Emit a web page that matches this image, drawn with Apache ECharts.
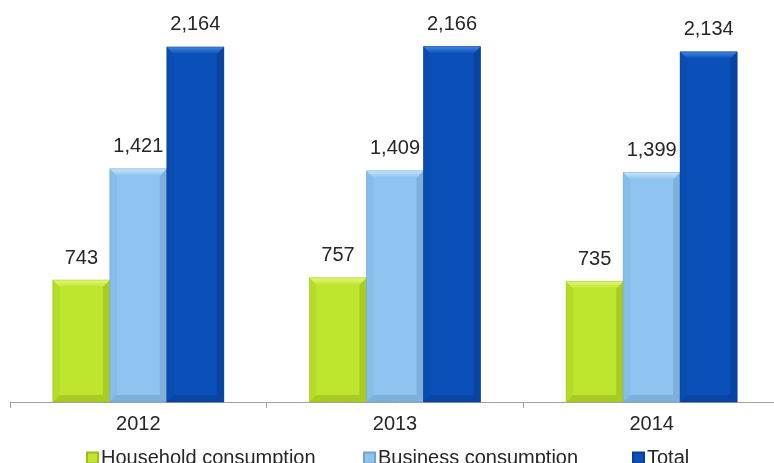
<!DOCTYPE html>
<html>
<head>
<meta charset="utf-8">
<script src="https://cdn.jsdelivr.net/npm/echarts@6/dist/echarts.min.js"></script>
<style>
html,body{margin:0;padding:0;background:#fff;}
#chart{width:774px;height:463px;}
</style>
</head>
<body>
<div id="chart"></div>
<script>
var categories = ['2012', '2013', '2014'];
var seriesNames = ['Household consumption', 'Business consumption', 'Total'];
var household = [743, 757, 735];
var business = [1421, 1409, 1399];
var total = [2164, 2166, 2134];

var dataSets = [household, business, total];
var styles = [
  {face: '#bfe62e', top: '#e6f878', left: '#b4dc28', right: '#a8cc22', bottom: '#a8cc22', line: '#9cbd1e'},
  {face: '#8ec4ef', top: '#c8e5fa', left: '#88bdea', right: '#7eb0dc', bottom: '#7eb0dc', line: '#74a3cf'},
  {face: '#0a50b8', top: '#4686e0', left: '#0a4cb0', right: '#0844a2', bottom: '#0844a2', line: '#063e94'}
];
var BAR_W = 57, BEV = 7;
var fontFam = '"Liberation Sans", Arial, sans-serif';

function fmt(v) { return v.toLocaleString('en-US'); }

function makeRender(si) {
  var st = styles[si];
  return function (params, api) {
    var idx = api.value(0), val = api.value(1);
    var topPt = api.coord([idx, val]);
    var basePt = api.coord([idx, 0]);
    var cx = topPt[0] + (si - 1) * BAR_W;
    var x0 = cx - BAR_W / 2, x1 = cx + BAR_W / 2;
    var y0 = topPt[1], y1 = basePt[1];
    var b = BEV;
    return {
      type: 'group',
      children: [
        {type: 'rect', shape: {x: x0, y: y0, width: BAR_W, height: y1 - y0},
          style: {fill: st.face}},
        {type: 'polygon', shape: {points: [[x0, y0], [x0 + b, y0 + b], [x0 + b, y1 - b], [x0, y1]]},
          style: {fill: st.left}},
        {type: 'polygon', shape: {points: [[x1, y0], [x1 - b, y0 + b], [x1 - b, y1 - b], [x1, y1]]},
          style: {fill: st.right}},
        {type: 'polygon', shape: {points: [[x0, y1], [x0 + b, y1 - b], [x1 - b, y1 - b], [x1, y1]]},
          style: {fill: st.bottom}},
        {type: 'polygon', shape: {points: [[x0, y0], [x1, y0], [x1 - b, y0 + b], [x0 + b, y0 + b]]},
          style: {fill: new echarts.graphic.LinearGradient(0, 0, 0, 1, [
            {offset: 0, color: st.top}, {offset: 1, color: st.face}])}},
        {type: 'rect', shape: {x: x0, y: y0, width: BAR_W, height: y1 - y0},
          style: {fill: 'none', stroke: st.line, lineWidth: 0.5}},
        {type: 'text', style: {text: fmt(val), x: cx, y: y0 - 12, align: 'center', verticalAlign: 'bottom',
          fill: '#262626', font: '20px ' + fontFam}}
      ]
    };
  };
}

var series = seriesNames.map(function (name, i) {
  return {
    name: name,
    type: 'custom',
    renderItem: makeRender(i),
    itemStyle: {color: styles[i].face, borderColor: styles[i].line, borderWidth: 1},
    encode: {x: 0, y: 1},
    data: dataSets[i].map(function (v, k) { return [k, v]; })
  };
});

var legendLefts = [81, 358, 627];
var legends = seriesNames.map(function (name, i) {
  return {
    data: [name],
    left: legendLefts[i],
    top: 443,
    itemWidth: 11,
    itemHeight: 11,
    icon: 'rect',
    textStyle: {fontSize: 20, color: '#262626', fontFamily: fontFam, padding: [0, 0, 0, -2]},
    selectedMode: false
  };
});

var chart = echarts.init(document.getElementById('chart'), null, {renderer: 'canvas'});
chart.setOption({
  animation: false,
  backgroundColor: '#ffffff',
  grid: {left: 10, width: 770, top: 41, height: 361, containLabel: false, outerBoundsMode: 'none'},
  legend: legends,
  xAxis: {
    type: 'category',
    data: categories,
    boundaryGap: true,
    axisLine: {lineStyle: {color: '#a0a0a0', width: 1}},
    axisTick: {show: true, length: 6, lineStyle: {color: '#a0a0a0'}},
    axisLabel: {fontSize: 20, color: '#262626', fontFamily: fontFam, margin: 12}
  },
  yAxis: {
    type: 'value',
    min: 0,
    max: 2200,
    show: false,
    splitLine: {show: false}
  },
  series: series
});
</script>
</body>
</html>
